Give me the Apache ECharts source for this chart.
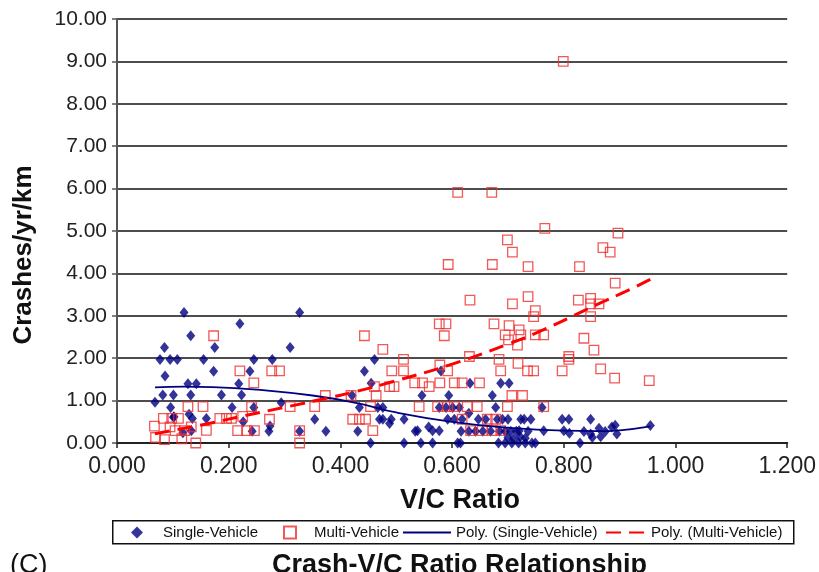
<!DOCTYPE html>
<html>
<head>
<meta charset="utf-8">
<script src="https://cdn.jsdelivr.net/npm/echarts@6/dist/echarts.min.js"></script>
<style>
  html, body { margin: 0; padding: 0; background: #fff; }
  #chart { width: 819px; height: 572px; }
</style>
</head>
<body>
<div id="chart"></div>
<script>
// Axis ticks
const xTicks = [0, 0.2, 0.4, 0.6, 0.8, 1.0, 1.2];
const yTicks = [0, 1, 2, 3, 4, 5, 6, 7, 8, 9, 10];

// Single-vehicle crash rates: [V/C ratio, crashes/yr/km]
const singleVehicle = [
  [0.068,0.96],[0.085,2.25],[0.077,1.97],[0.095,1.97],[0.086,1.58],[0.082,1.13],[0.101,1.13],[0.096,0.84],
  [0.101,0.61],[0.108,1.97],[0.120,3.08],[0.132,2.53],[0.127,1.40],[0.142,1.40],[0.132,1.13],[0.129,0.68],
  [0.135,0.58],[0.118,0.24],[0.133,0.29],[0.102,0.62],[0.155,1.97],[0.160,0.58],[0.175,2.25],[0.173,1.69],
  [0.187,1.13],[0.206,0.84],[0.220,2.81],[0.218,1.40],[0.223,1.13],[0.226,0.50],[0.245,1.97],[0.238,1.69],
  [0.245,0.84],[0.242,0.28],
  [0.327,3.08],[0.310,2.25],[0.278,1.97],[0.294,0.95],[0.274,0.40],[0.272,0.28],[0.327,0.28],[0.354,0.56],
  [0.374,0.28],[0.431,0.28],[0.443,1.69],[0.461,1.97],[0.455,1.41],[0.434,0.84],[0.421,1.12],[0.467,0.84],
  [0.476,0.84],[0.470,0.56],[0.476,0.56],[0.491,0.56],[0.488,0.46],[0.454,0.00],[0.514,0.56],[0.534,0.28],
  [0.538,0.29],[0.514,0.00],[0.544,0.00],[0.565,0.00],[0.558,0.38],[0.546,1.12],[0.565,0.29],[0.577,0.29],
  [0.580,1.70],[0.594,1.12],[0.577,0.84],[0.589,0.84],[0.601,0.84],[0.613,0.84],[0.592,0.56],[0.604,0.56],
  [0.618,0.56],[0.630,0.70],[0.632,1.41],[0.610,0.00],[0.615,0.00],[0.616,0.28],[0.630,0.28],[0.642,0.28],
  [0.655,0.28],[0.669,0.28],[0.647,0.56],[0.660,0.56],[0.672,1.12],[0.678,0.84],[0.687,1.41],[0.702,1.41],
  [0.681,0.56],[0.690,0.56],[0.700,0.56],[0.685,0.28],[0.695,0.28],[0.705,0.28],[0.715,0.28],[0.720,0.29],
  [0.700,0.13],[0.710,0.10],[0.722,0.15],[0.731,0.11],[0.683,0.00],[0.695,0.00],[0.707,0.00],[0.719,0.00],
  [0.731,0.00],[0.743,0.00],[0.749,0.00],[0.723,0.56],[0.729,0.56],[0.741,0.56],[0.736,0.28],[0.761,0.84],
  [0.764,0.29],[0.797,0.56],[0.809,0.56],[0.800,0.29],[0.810,0.23],[0.829,0.00],[0.848,0.56],
  [0.836,0.27],[0.848,0.21],[0.851,0.13],[0.863,0.35],[0.866,0.15],[0.874,0.27],[0.886,0.38],[0.892,0.42],
  [0.895,0.21],[0.955,0.41]
];

// Multi-vehicle crash rates: [V/C ratio, crashes/yr/km]
const multiVehicle = [
  [0.067,0.40],[0.069,0.13],[0.083,0.58],[0.085,0.08],[0.098,0.58],[0.110,0.58],[0.095,0.38],[0.104,0.29],
  [0.116,0.10],[0.121,0.29],[0.127,0.86],[0.133,0.38],[0.141,0.00],[0.154,0.86],[0.160,0.30],[0.173,2.53],
  [0.184,0.58],[0.196,0.58],[0.205,0.58],[0.220,1.70],[0.225,0.63],[0.245,1.42],[0.241,0.86],[0.216,0.29],
  [0.232,0.29],[0.246,0.29],[0.273,0.56],[0.277,1.70],[0.291,1.70],[0.310,0.86],[0.327,0.29],[0.327,0.00],
  [0.354,0.86],[0.373,1.12],[0.422,0.56],
  [0.434,0.56],[0.445,0.56],[0.443,2.53],[0.476,2.21],[0.419,1.12],[0.458,0.29],[0.454,0.86],[0.464,1.12],
  [0.461,1.33],[0.488,1.33],[0.496,1.33],[0.492,1.70],[0.513,1.70],[0.513,1.97],[0.533,1.42],[0.547,1.42],
  [0.559,1.33],[0.578,1.42],[0.578,1.84],[0.541,0.86],[0.574,0.86],
  [0.577,2.81],[0.589,2.81],[0.586,2.53],[0.592,1.70],[0.604,1.42],[0.618,1.42],[0.649,1.42],[0.592,0.86],
  [0.604,0.86],[0.627,0.86],[0.645,0.86],[0.618,0.56],[0.663,0.56],[0.678,0.56],[0.633,0.29],[0.654,0.29],
  [0.672,0.29],[0.687,0.29],[0.699,0.86],[0.764,0.86],[0.707,1.12],[0.726,1.12],[0.631,2.04],[0.684,1.97],
  [0.687,1.70],[0.735,1.70],[0.746,1.70],[0.797,1.70],[0.809,1.97],[0.809,2.04],[0.718,1.88],[0.866,1.75],
  [0.891,1.53],[0.953,1.47],[0.675,2.81],[0.702,2.77],[0.720,2.67],[0.695,2.55],[0.723,2.55],[0.701,2.43],
  [0.717,2.31],[0.749,2.55],[0.764,2.55],[0.836,2.47],[0.854,2.19],[0.632,3.37],[0.708,3.28],[0.736,3.45],
  [0.749,3.12],[0.746,2.98],[0.826,3.37],[0.848,3.41],[0.848,3.28],[0.863,3.28],[0.848,2.98],[0.593,4.21],
  [0.672,4.21],[0.736,4.16],[0.828,4.16],[0.892,3.77],[0.699,4.79],[0.708,4.50],[0.870,4.61],[0.883,4.50],
  [0.766,5.06],[0.897,4.95],[0.610,5.91],[0.671,5.91],[0.799,9.00]
];

// Polynomial trend lines, sampled along the fitted curves
const trendSingle = [
  [0.068,1.31],[0.12,1.33],[0.17,1.32],[0.25,1.26],[0.35,1.12],[0.43,0.94],[0.50,0.72],
  [0.60,0.50],[0.70,0.36],[0.80,0.29],[0.86,0.28],[0.90,0.30],[0.955,0.39]
];
const trendMulti = [
  [0.068,0.22],[0.16,0.45],[0.22,0.62],[0.31,0.87],[0.38,1.07],[0.43,1.22],[0.50,1.47],
  [0.60,1.86],[0.70,2.33],[0.76,2.65],[0.86,3.27],[0.91,3.57],[0.955,3.86]
];

const FONT = '"Liberation Sans", Arial, Helvetica, sans-serif';
const chart = echarts.init(document.getElementById('chart'), null, { renderer: 'canvas' });

// One legend entry per component so each key sits at its own place in the frame
function legendEntry(name, left, iconWidth, textPad, hideSymbol) {
  return {
    left: left, top: 525, padding: 0,
    itemWidth: iconWidth, itemHeight: 12,
    symbolKeepAspect: true,
    textStyle: { fontFamily: FONT, fontSize: 15, color: '#111', padding: [0, 0, 0, textPad] },
    data: [hideSymbol ? { name: name, itemStyle: { opacity: 0 } } : name]
  };
}

chart.setOption({
  backgroundColor: '#ffffff',
  animation: false,
  title: [
    {
      text: 'Crash-V/C Ratio Relationship',
      left: 272, top: 552, padding: 0,
      textStyle: { fontFamily: FONT, fontSize: 27, fontWeight: 'bold', color: '#111' }
    },
    {
      text: '(C)',
      left: 10, top: 552, padding: 0,
      textStyle: { fontFamily: FONT, fontSize: 27, fontWeight: 'normal', color: '#111' }
    }
  ],
  // Legend frame
  graphic: [{
    type: 'rect', left: 112, top: 520, z: 0,
    shape: { width: 681, height: 23 },
    style: { fill: '#fff', stroke: '#111', lineWidth: 1.5 }
  }],
  legend: [
    legendEntry('Single-Vehicle', 131, 12, 15, false),
    legendEntry('Multi-Vehicle', 283, 12, 13, false),
    legendEntry('Poly. (Single-Vehicle)', 402, 48, 0, true),
    legendEntry('Poly. (Multi-Vehicle)', 605, 40, 0, true)
  ],
  grid: { left: 117, top: 19, right: 30, bottom: 129, containLabel: false },
  xAxis: {
    type: 'value', min: xTicks[0], max: xTicks[xTicks.length - 1], interval: 0.2,
    name: 'V/C Ratio', nameLocation: 'middle', nameGap: 44,
    nameTextStyle: { fontFamily: FONT, fontSize: 27, fontWeight: 'bold', color: '#111', padding: [0, 0, 0, 16] },
    axisLine: { show: true, onZero: false, lineStyle: { color: '#222', width: 2 } },
    axisTick: { show: true, inside: false, length: 5, lineStyle: { color: '#222', width: 1.5 } },
    axisLabel: { margin: 12, fontFamily: FONT, fontSize: 23, color: '#222', formatter: v => v.toFixed(3) },
    splitLine: { show: false }
  },
  yAxis: {
    type: 'value', min: yTicks[0], max: yTicks[yTicks.length - 1], interval: 1,
    name: 'Crashes/yr/km', nameLocation: 'middle', nameGap: 80, nameRotate: 90,
    nameTextStyle: { fontFamily: FONT, fontSize: 26, fontWeight: 'bold', color: '#111', padding: [0, 48, 0, 0] },
    axisLine: { show: true, lineStyle: { color: '#555', width: 2 } },
    axisTick: { show: true, inside: false, length: 5, lineStyle: { color: '#555', width: 1.5 } },
    axisLabel: { margin: 10, fontFamily: FONT, fontSize: 21, color: '#222', formatter: v => v.toFixed(2) },
    splitLine: { show: true, lineStyle: { color: '#4d4d4d', width: 2 } }
  },
  series: [
    {
      name: 'Single-Vehicle', type: 'scatter', data: singleVehicle,
      symbol: 'diamond', symbolSize: [9, 11],
      itemStyle: { color: '#000080' }, z: 3
    },
    {
      name: 'Multi-Vehicle', type: 'scatter', data: multiVehicle,
      symbol: 'rect', symbolSize: 9.5,
      itemStyle: { color: 'rgba(255,255,255,0)', borderColor: '#ee3030', borderWidth: 1.3 }, z: 4
    },
    {
      name: 'Poly. (Single-Vehicle)', type: 'line', data: trendSingle,
      smooth: true, symbol: 'none',
      lineStyle: { color: '#000080', width: 1.8, type: 'solid' },
      itemStyle: { color: '#000080' }, z: 5
    },
    {
      name: 'Poly. (Multi-Vehicle)', type: 'line', data: trendMulti,
      smooth: true, symbol: 'none',
      lineStyle: { color: '#ff0000', width: 3, type: [15, 8] },
      itemStyle: { color: '#ff0000' }, z: 6
    }
  ]
});
</script>
</body>
</html>
